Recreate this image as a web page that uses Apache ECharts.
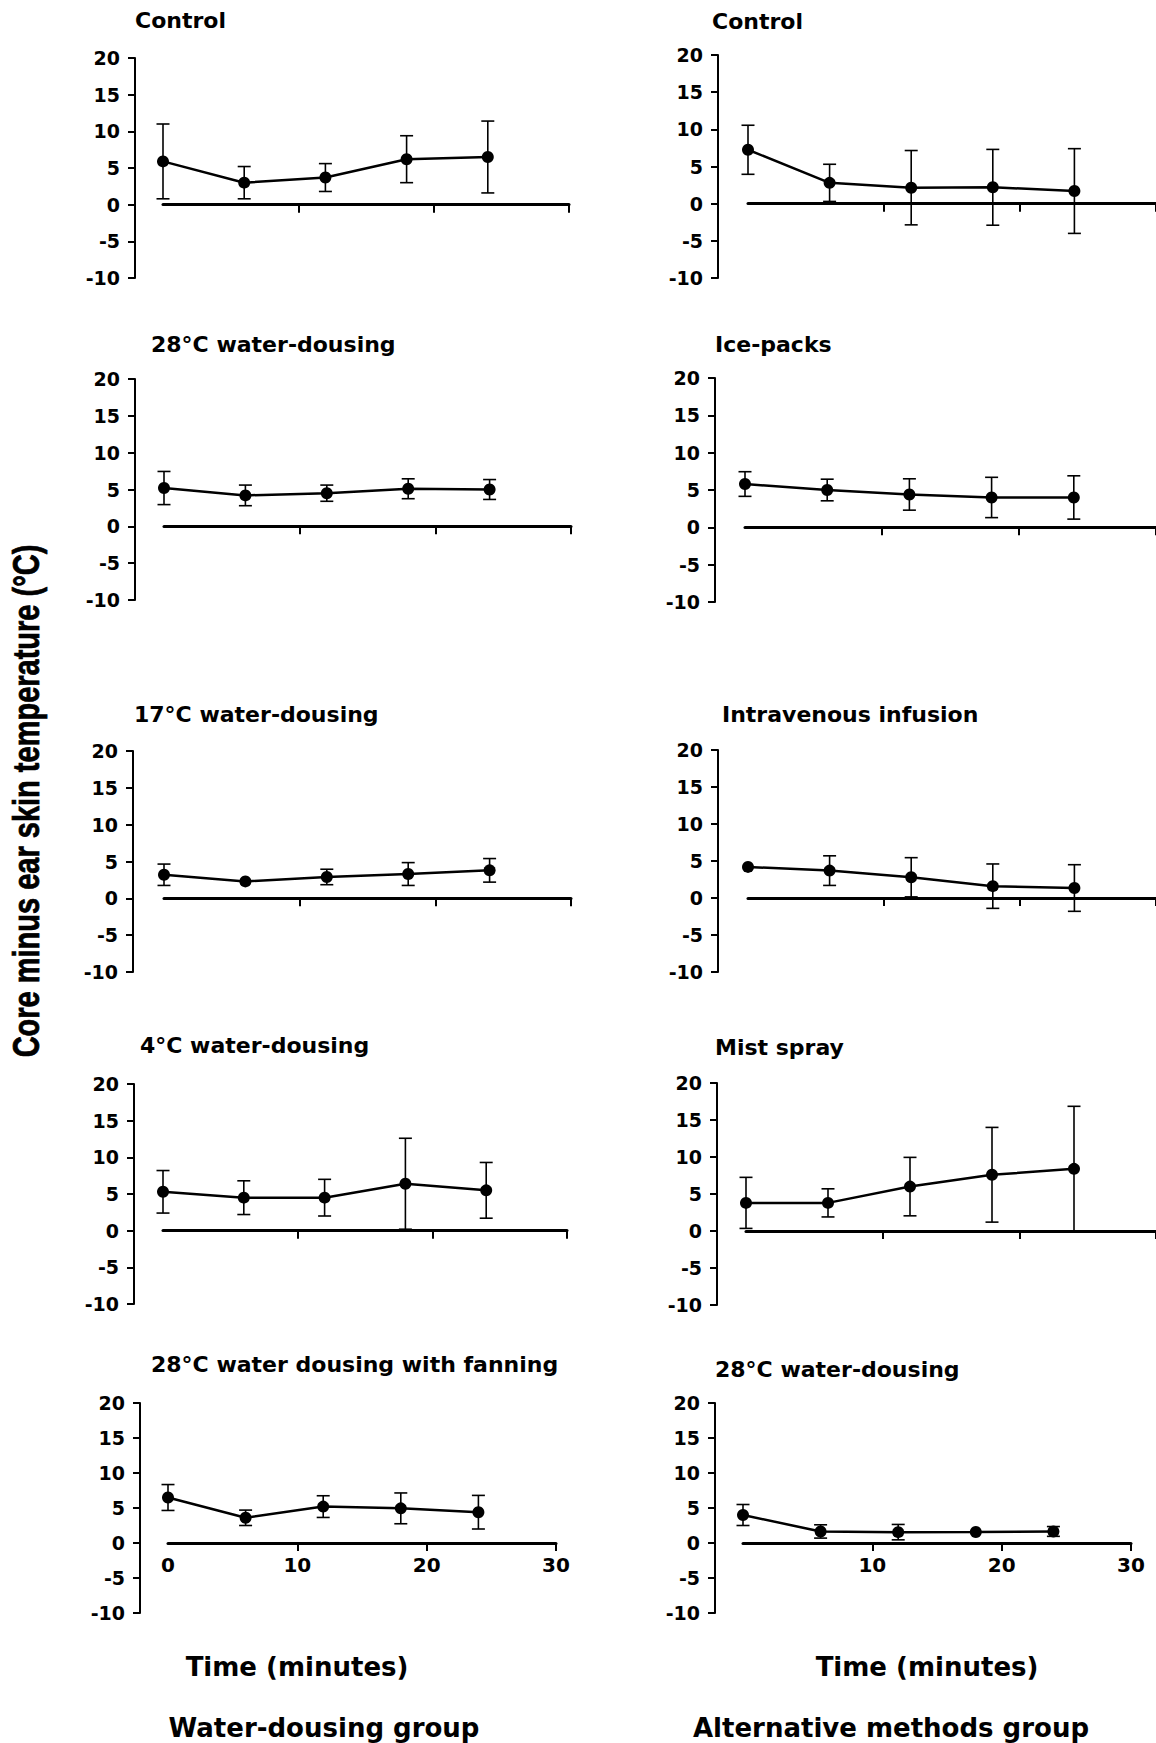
<!DOCTYPE html>
<html><head><meta charset="utf-8">
<script src="https://cdn.jsdelivr.net/npm/echarts@6/dist/echarts.min.js"></script>
<style>html,body{margin:0;padding:0;background:#fff}#c{width:1156px;height:1743px}</style>
</head><body><div id="c"></div>
<script>
// ---- data ----
const times = [0, 6, 12, 18, 24];
const yTicks = [-10, -5, 0, 5, 10, 15, 20];
const xTickLabelsLeft = [0, 10, 20, 30];
const xTickLabelsRight = [10, 20, 30];
const xTicks = [10, 20, 30];

const wdControlMean = [5.9, 3.0, 3.7, 6.2, 6.5];
const wdControlSD   = [5.1, 2.2, 1.9, 3.2, 4.9];
const wd28Mean = [5.2, 4.2, 4.5, 5.1, 5.0];
const wd28SD   = [2.25, 1.4, 1.1, 1.35, 1.35];
const wd17Mean = [3.2, 2.3, 2.9, 3.3, 3.8];
const wd17SD   = [1.45, 0, 1.05, 1.55, 1.6];
const wd4Mean = [5.3, 4.5, 4.5, 6.4, 5.5];
const wd4SD   = [2.9, 2.3, 2.5, 6.2, 3.8];
const wdFanMean = [6.5, 3.6, 5.2, 4.95, 4.4];
const wdFanSD   = [1.85, 1.1, 1.55, 2.2, 2.4];

const altControlMean = [7.25, 2.8, 2.15, 2.2, 1.7];
const altControlSD   = [3.3, 2.5, 5.0, 5.1, 5.7];
const altIceMean = [5.8, 5.0, 4.4, 4.0, 4.0];
const altIceSD   = [1.65, 1.45, 2.1, 2.7, 2.9];
const altIVMean = [4.2, 3.7, 2.8, 1.6, 1.35];
const altIVSD   = [0, 2.0, 2.65, 3.0, 3.15];
const altMistMean = [3.8, 3.8, 6.0, 7.6, 8.4];
const altMistSD   = [3.45, 1.9, 3.95, 6.4, 8.45];
const alt28Mean = [4.0, 1.65, 1.55, 1.57, 1.65];
const alt28SD   = [1.5, 0.95, 1.1, 0, 0.7];

const panelTitles = [
  'Control', '28°C water-dousing', '17°C water-dousing', '4°C water-dousing', '28°C water dousing with fanning',
  'Control', 'Ice-packs', 'Intravenous infusion', 'Mist spray', '28°C water-dousing'
];
const yTitle = 'Core minus ear skin temperature (°C)';
const xTitle = 'Time (minutes)';
const groupTitles = ['Water-dousing group', 'Alternative methods group'];

// ---- layout ----
const W = 1156;
const layout = [
  {yAxisX:135, x0:163, x30:569, top:58,   bot:278,  tx:135, ty:20},
  {yAxisX:135, x0:164, x30:571, top:379,  bot:600,  tx:151, ty:344},
  {yAxisX:133, x0:164, x30:571, top:751,  bot:972,  tx:134, ty:714},
  {yAxisX:134, x0:163, x30:567, top:1084, bot:1304, tx:140, ty:1045},
  {yAxisX:140, x0:168, x30:556, top:1403, bot:1613, tx:151, ty:1364},
  {yAxisX:718, x0:748, x30:1159, top:55,  bot:278,  tx:712, ty:21},
  {yAxisX:715, x0:745, x30:1158, top:378, bot:602,  tx:715, ty:344},
  {yAxisX:718, x0:748, x30:1156, top:750, bot:972,  tx:722, ty:714},
  {yAxisX:717, x0:746, x30:1157, top:1083, bot:1305, tx:715, ty:1047},
  {yAxisX:715, x0:743, x30:1131, top:1403, bot:1613, tx:715, ty:1369}
];
const means = [wdControlMean, wd28Mean, wd17Mean, wd4Mean, wdFanMean, altControlMean, altIceMean, altIVMean, altMistMean, alt28Mean];
const sds = [wdControlSD, wd28SD, wd17SD, wd4SD, wdFanSD, altControlSD, altIceSD, altIVSD, altMistSD, alt28SD];
const xLabelSets = [null, null, null, null, xTickLabelsLeft, null, null, null, null, xTickLabelsRight];

const FONT = 'DejaVu Sans';
const grids = [], xAxes = [], yAxes = [], series = [], graphics = [];

layout.forEach((l, i) => {
  const h = l.bot - l.top;
  grids.push({left: l.x0, right: W - l.x30, top: l.top, height: h});
  const labs = xLabelSets[i];
  xAxes.push({
    type: 'value', gridIndex: i, min: 0, max: 30, interval: 10, position: 'bottom',
    offset: -h / 3,
    axisLine: {show: true, onZero: false, lineStyle: {color: '#000', width: 3}},
    axisTick: {show: true, customValues: xTicks, length: 8, lineStyle: {color: '#000', width: 2}},
    axisLabel: labs ? {show: true, customValues: labs, color: '#000', fontFamily: FONT, fontWeight: 'bold', fontSize: 20, margin: 12} : {show: false},
    splitLine: {show: false}
  });
  yAxes.push({
    type: 'value', gridIndex: i, min: -10, max: 20, interval: 5,
    offset: l.x0 - l.yAxisX,
    axisLine: {show: true, onZero: false, lineStyle: {color: '#000', width: 2}},
    axisTick: {show: true, length: 7, lineStyle: {color: '#000', width: 2}},
    axisLabel: {show: true, customValues: yTicks, color: '#000', fontFamily: FONT, fontWeight: 'bold', fontSize: 19, margin: 15},
    splitLine: {show: false}
  });
  const m = means[i], s = sds[i];
  series.push({
    type: 'custom', xAxisIndex: i, yAxisIndex: i, z: 2, silent: true,
    data: times.map((t, k) => [t, m[k] - s[k], m[k] + s[k]]),
    renderItem: function (params, api) {
      const x = api.value(0), lo = api.value(1), hi = api.value(2);
      if (hi - lo <= 0) return null;
      const p1 = api.coord([x, hi]), p2 = api.coord([x, lo]);
      const c = 6.5, st = {stroke: '#000', lineWidth: 1.6};
      return {type: 'group', children: [
        {type: 'line', shape: {x1: p1[0], y1: p1[1], x2: p2[0], y2: p2[1]}, style: st},
        {type: 'line', shape: {x1: p1[0] - c, y1: p1[1], x2: p1[0] + c, y2: p1[1]}, style: st},
        {type: 'line', shape: {x1: p2[0] - c, y1: p2[1], x2: p2[0] + c, y2: p2[1]}, style: st}
      ]};
    }
  });
  series.push({
    type: 'line', xAxisIndex: i, yAxisIndex: i, z: 3, silent: true,
    data: times.map((t, k) => [t, m[k]]),
    symbol: 'circle', symbolSize: 12, showSymbol: true,
    lineStyle: {color: '#000', width: 2.5},
    itemStyle: {color: '#000'}
  });
  graphics.push({
    type: 'text', x: l.tx, y: l.ty,
    style: {text: panelTitles[i], fill: '#000', font: 'bold 22px "DejaVu Sans"',
            textAlign: 'left', textVerticalAlign: 'middle'}
  });
});

graphics.push({
  type: 'text', x: 26, y: 801, rotation: Math.PI / 2, scaleY: 1.3,
  style: {text: yTitle, fill: '#000', stroke: '#000', lineWidth: 0.6,
          font: 'bold 29px "Liberation Sans", Arial, sans-serif',
          textAlign: 'center', textVerticalAlign: 'middle'}
});
[[297, 1667, xTitle], [927, 1667, xTitle], [324, 1728, groupTitles[0]], [891, 1728, groupTitles[1]]].forEach(a => {
  graphics.push({
    type: 'text', x: a[0], y: a[1],
    style: {text: a[2], fill: '#000', font: 'bold 26px "DejaVu Sans"',
            textAlign: 'center', textVerticalAlign: 'middle'}
  });
});

const chart = echarts.init(document.getElementById('c'), null, {renderer: 'svg', width: 1156, height: 1743});
chart.setOption({
  animation: false,
  backgroundColor: '#fff',
  grid: grids, xAxis: xAxes, yAxis: yAxes, series: series, graphic: graphics
});
</script>
</body></html>
